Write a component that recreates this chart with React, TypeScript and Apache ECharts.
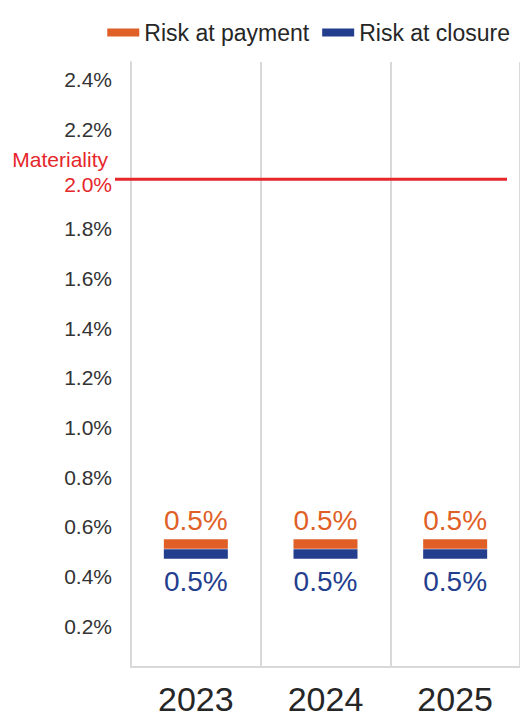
import React, { useEffect, useRef } from "react";
import * as echarts from "echarts";

const years = ["2023", "2024", "2025"];
const riskAtPayment = [0.53, 0.53, 0.53];
const riskAtClosure = [0.49, 0.49, 0.49];
const yTicks = [0.2, 0.4, 0.6, 0.8, 1.0, 1.2, 1.4, 1.6, 1.8, 2.0, 2.2, 2.4];
const materiality = 2.0;
const materialityLabel = "Materiality";
const seriesNames = ["Risk at payment", "Risk at closure"];

const ORANGE = "#DF5F27";
const BLUE = "#243E8E";
const RED = "#E5262B";
const GRID = "#D9D9D9";
const FONT = "'Liberation Sans', Arial, sans-serif";

export default function App() {
  const ref = useRef<HTMLDivElement>(null);
  useEffect(() => {
    if (!ref.current) return;
    const chart = echarts.init(ref.current, undefined, { renderer: "svg" });
    const fmt = (v: number) => v.toFixed(1) + "%";
    chart.setOption({
      animation: false,
      textStyle: { fontFamily: FONT },
      legend: {
        top: 16,
        right: 5,
        icon: "rect",
        itemWidth: 32,
        itemHeight: 8,
        itemGap: 13,
        textStyle: { fontSize: 23, color: "#262626", fontFamily: FONT },
        data: seriesNames,
      },
      grid: { left: 131, right: -2, top: 62, bottom: 51 },
      xAxis: {
        type: "category",
        data: years,
        boundaryGap: true,
        axisLine: { show: true, lineStyle: { color: GRID, width: 2 } },
        axisTick: { show: false },
        splitLine: { show: true, lineStyle: { color: GRID, width: 2 } },
        axisLabel: {
          fontSize: 34,
          lineHeight: 30,
          color: "#262626",
          margin: 17,
          fontFamily: FONT,
        },
      },
      yAxis: {
        type: "value",
        min: 0.035,
        max: 2.472,
        axisLine: { show: true, lineStyle: { color: GRID, width: 2 } },
        axisTick: { show: false },
        splitLine: { show: false },
        axisLabel: {
          customValues: yTicks,
          margin: 19,
          fontSize: 21,
          color: "#333333",
          fontFamily: FONT,
          formatter: (v: number) =>
            Math.abs(v - materiality) < 1e-9 ? "{r|" + fmt(v) + "}" : fmt(v),
          rich: {
            r: { color: RED, fontSize: 21, fontFamily: FONT, padding: [10, 0, 0, 0] },
          },
        },
      },
      series: [
        {
          name: seriesNames[0],
          type: "line",
          data: riskAtPayment,
          color: ORANGE,
          symbol: "rect",
          symbolSize: [64, 9.5],
          lineStyle: { opacity: 0 },
          itemStyle: { color: ORANGE },
          z: 3,
          label: {
            show: true,
            position: "top",
            distance: 5,
            fontSize: 28,
            color: ORANGE,
            fontFamily: FONT,
            formatter: (p: any) => fmt(p.value),
          },
        },
        {
          name: seriesNames[1],
          type: "line",
          data: riskAtClosure,
          color: BLUE,
          symbol: "rect",
          symbolSize: [64, 9.5],
          lineStyle: { opacity: 0 },
          itemStyle: { color: BLUE },
          z: 2,
          label: {
            show: true,
            position: "bottom",
            distance: 9,
            fontSize: 28,
            color: BLUE,
            fontFamily: FONT,
            formatter: (p: any) => fmt(p.value),
          },
        },
      ],
    });
    const y = chart.convertToPixel({ yAxisIndex: 0 }, materiality) as number;
    chart.setOption({
      graphic: [
        {
          type: "line",
          shape: { x1: 115, y1: y, x2: 507, y2: y },
          style: { stroke: RED, lineWidth: 3 },
          z: 10,
        },
        {
          type: "text",
          x: 108,
          y: y - 20,
          style: {
            text: materialityLabel,
            fill: RED,
            fontSize: 21,
            fontFamily: FONT,
            textAlign: "right",
            textVerticalAlign: "middle",
          },
        },
      ],
    });
    return () => chart.dispose();
  }, []);
  return (
    <div
      ref={ref}
      style={{ position: "fixed", left: 0, top: 0, width: 520, height: 718, background: "#fff" }}
    />
  );
}
